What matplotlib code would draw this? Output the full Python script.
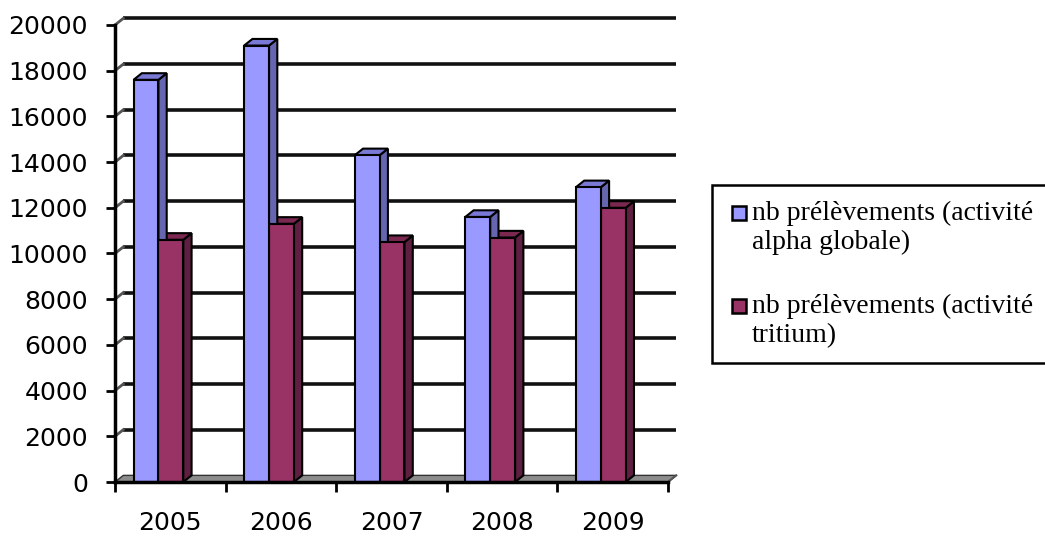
import matplotlib.pyplot as plt
from matplotlib.patches import Polygon, Rectangle
import numpy as np

# ── DATA ─────────────────────────────────────────────────────
years = ['2005', '2006', '2007', '2008', '2009']
alpha_globale = [17600, 19100, 14300, 11600, 12900]
tritium = [10600, 11300, 10500, 10700, 12000]
series_labels = ['nb prélèvements (activité\nalpha globale)',
                 'nb prélèvements (activité\ntritium)']
y_ticks = [0, 2000, 4000, 6000, 8000, 10000, 12000, 14000, 16000, 18000, 20000]

# ── STYLE ────────────────────────────────────────────────────
BLUE = ('#9999FF', '#6666B0', '#7A7AD6')      # front, side, top
RED = ('#993366', '#5E1F40', '#7A2850')
FLOOR = '#8C8C8C'
DX, DY = 0.075, 290      # fake 3D depth in data units

fig = plt.figure(figsize=(10.45, 5.36), dpi=100)
ax = fig.add_axes([115 / 1045, 54 / 536, 553 / 1045, 457 / 536])
ax.set_xlim(-0.5, len(years) - 0.5)
ax.set_ylim(0, 20000)
ax.patch.set_visible(False)

x = np.arange(len(years))
w = 0.225
left, right = -0.5, len(years) - 0.5

# floor
ax.add_patch(Polygon([(left, 0), (right, 0), (right + DX, DY), (left + DX, DY)],
                     closed=True, facecolor=FLOOR, edgecolor='#333333',
                     linewidth=1, zorder=1, clip_on=False))

# back-wall gridlines + diagonals from the front axis
for v in y_ticks[1:]:
    ax.plot([left + DX, right + DX], [v + DY, v + DY], color='#111111',
            linewidth=2.6, zorder=0.5, clip_on=False, solid_capstyle='butt')
    ax.plot([left, left + DX], [v, v + DY], color='#555555',
            linewidth=2, zorder=0.5, clip_on=False)
ax.plot([right, right + DX], [0, DY], color='#555555', linewidth=1.5,
        zorder=1, clip_on=False)


def bar3d(xc, h, cols):
    x0, x1 = xc - w / 2, xc + w / 2
    ax.add_patch(Polygon([(x1, 0), (x1 + DX, DY), (x1 + DX, h + DY), (x1, h)],
                         closed=True, facecolor=cols[1], edgecolor='black',
                         linewidth=1.5, zorder=3, clip_on=False))
    ax.add_patch(Polygon([(x0, h), (x1, h), (x1 + DX, h + DY), (x0 + DX, h + DY)],
                         closed=True, facecolor=cols[2], edgecolor='black',
                         linewidth=1.5, zorder=3, clip_on=False))
    ax.add_patch(Rectangle((x0, 0), w, h, facecolor=cols[0], edgecolor='black',
                           linewidth=1.5, zorder=4, clip_on=False))


# draw red first so the blue side face sits behind the red front
for i in range(len(years)):
    bar3d(x[i] + 0.005, tritium[i], RED)
    bar3d(x[i] - 0.22, alpha_globale[i], BLUE)

# axes
for s in ['top', 'right']:
    ax.spines[s].set_visible(False)
for s in ['left', 'bottom']:
    ax.spines[s].set_linewidth(2.5)
    ax.spines[s].set_color('black')
    ax.spines[s].set_zorder(5)

ax.set_yticks(y_ticks)
ax.set_yticklabels([str(v) for v in y_ticks])
ax.tick_params(axis='y', length=6.5, width=2, pad=13, labelsize=18)
ax.set_xticks(np.arange(len(years) + 1) - 0.5)
ax.set_xticklabels([])
ax.set_xticks(x, minor=True)
ax.set_xticklabels(years, minor=True)
ax.tick_params(axis='x', which='major', length=7, width=2, direction='out')
ax.tick_params(axis='x', which='minor', length=0, pad=21, labelsize=18)

# legend (drawn by hand to match the boxed Excel legend)
fig.patches.append(Rectangle((712 / 1045, (536 - 363) / 536), 400 / 1045, 178 / 536,
                             transform=fig.transFigure, facecolor='white',
                             edgecolor='black', linewidth=1.8, zorder=1))
for k, (lab, cols) in enumerate(zip(series_labels, [BLUE, RED])):
    top_px = 206 + k * 93
    fig.patches.append(Rectangle((732 / 1045, (536 - top_px - 14) / 536), 14 / 1045, 14 / 536,
                                 transform=fig.transFigure, facecolor=cols[0],
                                 edgecolor='black', linewidth=1.8, zorder=2))
    fig.text(752 / 1045, (536 - top_px + 5) / 536, lab, ha='left', va='top',
             fontsize=20, family='Liberation Serif', linespacing=1.2, zorder=3)

fig.savefig('out.png', dpi=100, facecolor='white')
